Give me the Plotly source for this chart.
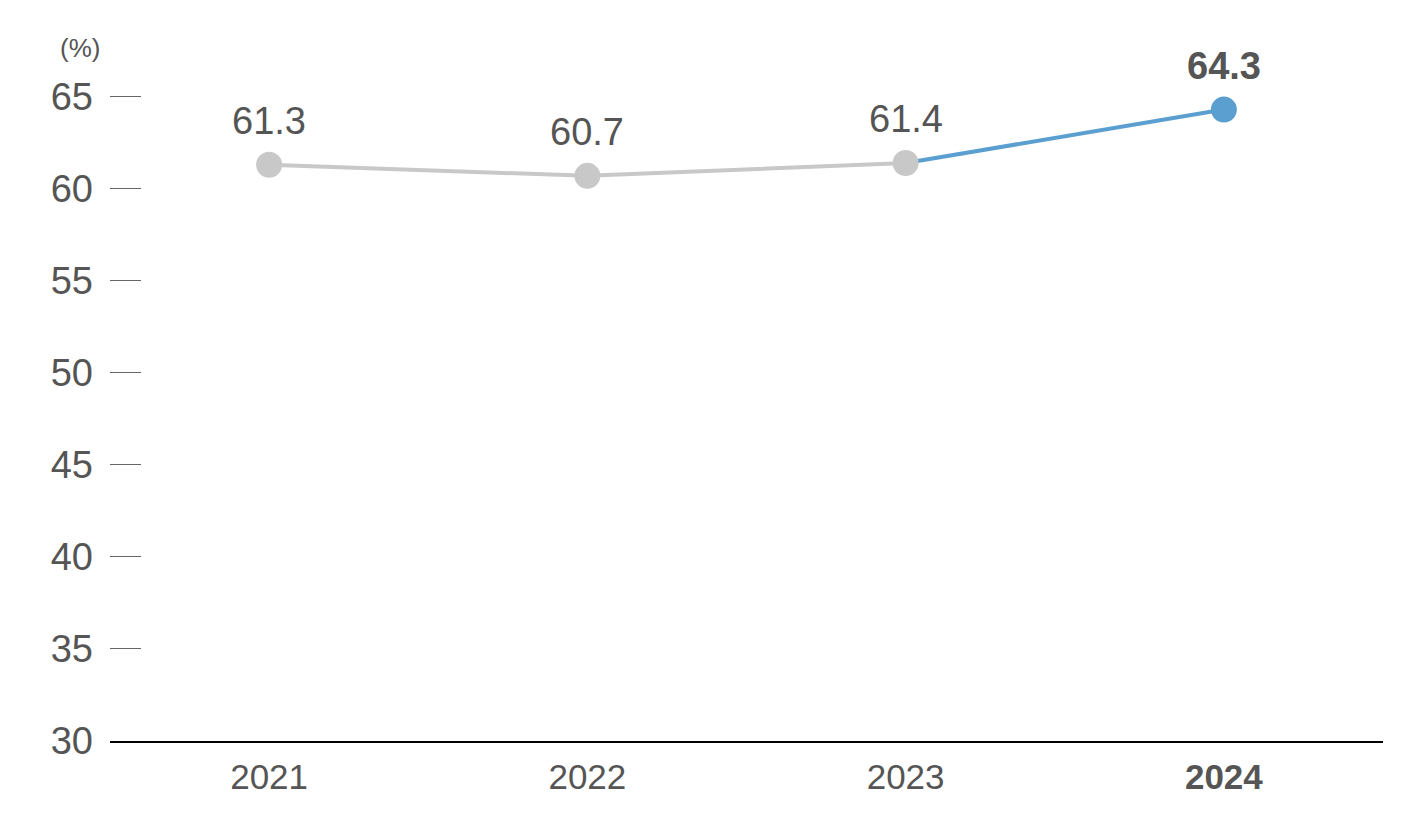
import plotly.graph_objects as go

years = ["2021", "2022", "2023", "2024"]
values = [61.3, 60.7, 61.4, 64.3]
tick_labels = ["2021", "2022", "2023", "<b>2024</b>"]
point_labels = ["61.3", "60.7", "61.4", "<b>64.3</b>"]
y_ticks = [30, 35, 40, 45, 50, 55, 60, 65]

GRAY = "#c8c8c8"
BLUE = "#5b9fd0"
TEXT = "#555555"
FONT = "Liberation Sans, Arial, sans-serif"

fig = go.Figure()

# blue segment (line only), drawn first so markers sit on top
fig.add_trace(go.Scatter(
    x=years[2:], y=values[2:], mode="lines",
    line=dict(color=BLUE, width=4), hoverinfo="skip", showlegend=False))

# gray segment with markers
fig.add_trace(go.Scatter(
    x=years[:3], y=values[:3], mode="lines+markers",
    line=dict(color=GRAY, width=4),
    marker=dict(color=GRAY, size=26),
    showlegend=False))

# highlighted last point
fig.add_trace(go.Scatter(
    x=years[3:], y=values[3:], mode="markers",
    marker=dict(color=BLUE, size=26),
    showlegend=False))

annotations = [
    dict(x=i, y=y, text=t, xref="x", yref="y", showarrow=False,
         yshift=44, yanchor="middle", xanchor="center",
         font=dict(family=FONT, size=38, color=TEXT))
    for i, (y, t) in enumerate(zip(values, point_labels))
]
annotations.append(dict(
    text="(%)", xref="paper", yref="paper", x=-0.006, y=1.0,
    xanchor="right", yanchor="middle", yshift=45, showarrow=False,
    font=dict(family=FONT, size=26, color=TEXT)))

fig.update_layout(
    width=1427, height=831,
    margin=dict(l=110, r=44, t=93, b=90),
    paper_bgcolor="white", plot_bgcolor="white",
    font=dict(family=FONT, color=TEXT),
    xaxis=dict(
        type="category", categoryorder="array", categoryarray=years,
        range=[-0.5, 3.5],
        tickmode="array", tickvals=years, ticktext=tick_labels,
        tickfont=dict(size=35, color=TEXT, family=FONT),
        showgrid=False, showline=True, linecolor="#000000", linewidth=1.5,
        ticks="", ticklabelstandoff=4, zeroline=False),
    yaxis=dict(
        range=[30, 65.2], tickmode="array", tickvals=y_ticks,
        tickfont=dict(size=38, color=TEXT, family=FONT),
        showgrid=False, showline=False, zeroline=False,
        ticks="inside", ticklen=31, tickwidth=1.2, tickcolor="#666666",
        ticklabelstandoff=16),
    annotations=annotations,
)

fig.write_html("out.html")
